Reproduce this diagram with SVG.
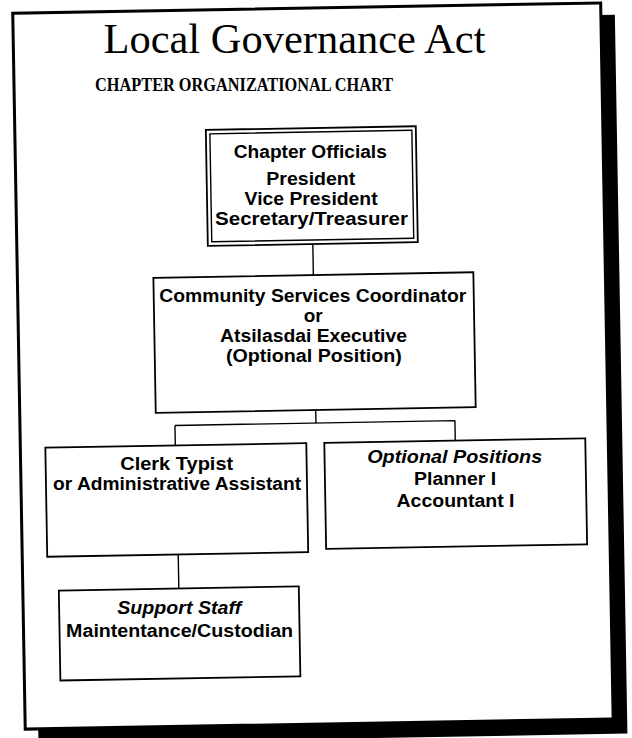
<svg xmlns="http://www.w3.org/2000/svg" width="632" height="738" viewBox="0 0 632 738">
<style>
.box{fill:#fff;stroke:#000;stroke-width:1.8}
.thin{fill:none;stroke:#000;stroke-width:1.4}
.t{font-family:"Liberation Sans",Arial,sans-serif;font-weight:bold;font-size:17.5px;text-anchor:middle;fill:#000}
.i{font-style:italic}
.conn{fill:none;stroke:#000;stroke-width:1.4}
</style>
<rect width="632" height="738" fill="#fff"/>
<g id="frame">
<g transform="rotate(-1 316 369)">
<rect x="32" y="20" width="589" height="719" fill="#000"/>
<rect x="19" y="8" width="588" height="716" fill="#fff" stroke="#000" stroke-width="3"/>
</g>
<text x="294.5" y="52.9" font-family="'Liberation Serif','Times New Roman',serif" font-size="42" text-anchor="middle" textLength="382" lengthAdjust="spacingAndGlyphs">Local Governance Act</text>
<text x="244.1" y="90.5" font-family="'Liberation Serif','Times New Roman',serif" font-size="18.5" font-weight="bold" text-anchor="middle" textLength="298" lengthAdjust="spacingAndGlyphs">CHAPTER ORGANIZATIONAL CHART</text>
</g>
<g id="connectors">
<path class="conn" transform="rotate(-1 316 369)" d="M315 244V275M315 410V423M174 423H454M174 423V443M454 423V443M175 552V586"/>
</g>
<g id="chapter-officials">
<rect class="box" transform="rotate(-1 316 369)" x="210" y="128" width="210" height="116"/>
<rect class="thin" transform="rotate(-1 316 369)" x="214" y="132" width="202" height="108"/>
<text class="t" x="310.3" y="158" textLength="153" lengthAdjust="spacingAndGlyphs">Chapter Officials</text>
<text class="t" x="310.8" y="185" textLength="89" lengthAdjust="spacingAndGlyphs">President</text>
<text class="t" x="311.1" y="205" textLength="133" lengthAdjust="spacingAndGlyphs">Vice President</text>
<text class="t" x="311.5" y="225" textLength="193" lengthAdjust="spacingAndGlyphs">Secretary/Treasurer</text>
</g>
<g id="community-services">
<rect class="box" transform="rotate(-1 316 369)" x="155" y="275" width="320" height="135"/>
<text class="t" x="312.8" y="302" textLength="307" lengthAdjust="spacingAndGlyphs">Community Services Coordinator</text>
<text class="t" x="313.2" y="322" textLength="19" lengthAdjust="spacingAndGlyphs">or</text>
<text class="t" x="313.5" y="342" textLength="187" lengthAdjust="spacingAndGlyphs">Atsilasdai Executive</text>
<text class="t" x="313.9" y="362" textLength="176" lengthAdjust="spacingAndGlyphs">(Optional Position)</text>
</g>
<g id="clerk-typist">
<rect class="box" transform="rotate(-1 316 369)" x="44" y="443" width="261" height="109"/>
<text class="t" x="176.7" y="470.1" textLength="113" lengthAdjust="spacingAndGlyphs">Clerk Typist</text>
<text class="t" x="177.1" y="490.1" textLength="248" lengthAdjust="spacingAndGlyphs">or Administrative Assistant</text>
</g>
<g id="optional-positions">
<rect class="box" transform="rotate(-1 316 369)" x="323" y="443" width="261" height="106"/>
<text class="t i" x="454.7" y="462.6" textLength="175" lengthAdjust="spacingAndGlyphs">Optional Positions</text>
<text class="t" x="455.1" y="484.6" textLength="82" lengthAdjust="spacingAndGlyphs">Planner I</text>
<text class="t" x="455.5" y="506.6" textLength="118" lengthAdjust="spacingAndGlyphs">Accountant I</text>
</g>
<g id="support-staff">
<rect class="box" transform="rotate(-1 316 369)" x="55" y="586" width="240" height="90"/>
<text class="t i" x="179.2" y="614.1" textLength="124" lengthAdjust="spacingAndGlyphs">Support Staff</text>
<text class="t" x="179.6" y="637.1" textLength="227" lengthAdjust="spacingAndGlyphs">Maintentance/Custodian</text>
</g>
</svg>
